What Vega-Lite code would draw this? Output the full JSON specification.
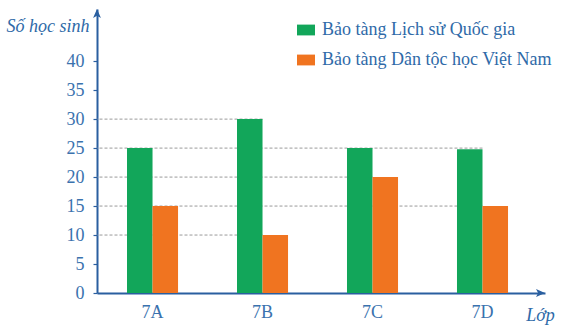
{
  "$schema": "https://vega.github.io/schema/vega-lite/v6.json",
  "width": 448,
  "height": 284,
  "autosize": "none",
  "padding": {"left": 97, "top": 9, "right": 21, "bottom": 33},
  "background": "white",
  "config": {"view": {"stroke": null}, "font": "Liberation Serif"},
  "datasets": {
    "bars": [
      {"cls": "7A", "series": "Bảo tàng Lịch sử Quốc gia", "value": 25},
      {"cls": "7A", "series": "Bảo tàng Dân tộc học Việt Nam", "value": 15},
      {"cls": "7B", "series": "Bảo tàng Lịch sử Quốc gia", "value": 30},
      {"cls": "7B", "series": "Bảo tàng Dân tộc học Việt Nam", "value": 10},
      {"cls": "7C", "series": "Bảo tàng Lịch sử Quốc gia", "value": 25},
      {"cls": "7C", "series": "Bảo tàng Dân tộc học Việt Nam", "value": 20},
      {"cls": "7D", "series": "Bảo tàng Lịch sử Quốc gia", "value": 24.8},
      {"cls": "7D", "series": "Bảo tàng Dân tộc học Việt Nam", "value": 15}
    ],
    "guides": [
      {"classIndex": 2, "value": 30},
      {"classIndex": 4, "value": 25},
      {"classIndex": 3, "value": 20},
      {"classIndex": 4, "value": 15},
      {"classIndex": 2, "value": 10}
    ],
    "yArrow": [{"classIndex": 0.4955, "value": 48.1}],
    "xArrow": [{"classIndex": 4.52, "value": 0}]
  },
  "encoding": {
    "y": {
      "field": "value", "type": "quantitative",
      "scale": {"domain": [0, 49], "nice": false},
      "axis": {
        "title": "Số học sinh", "titleFontStyle": "italic", "titleFontWeight": "normal", "titleFont": "Liberation Serif",
        "titleFontSize": 18, "titleColor": "#2f6aa8", "titleAngle": 0,
        "titleX": -8, "titleY": 22, "titleAlign": "right", "titleBaseline": "alphabetic",
        "values": [0, 5, 10, 15, 20, 25, 30, 35, 40], "labelOverlap": false,
        "labelFontSize": 18, "labelColor": "#3a72ae", "labelPadding": 9,
        "tickSize": 4, "tickColor": "#2a5fa0", "tickWidth": 1.2,
        "domainColor": "#2a5fa0", "domainWidth": 2, "grid": false
      }
    }
  },
  "layer": [
    {
      "data": {"name": "guides"},
      "mark": {"type": "rule", "color": "#9a9a9a", "strokeDash": [3, 2], "strokeWidth": 1},
      "encoding": {
        "x": {"field": "classIndex", "type": "quantitative", "scale": {"domain": [0.4955, 4.5682], "nice": false, "zero": false}, "axis": null},
        "x2": {"datum": 0.4955}
      }
    },
    {
      "data": {"name": "bars"},
      "mark": {"type": "bar"},
      "encoding": {
        "x": {
          "field": "cls", "type": "nominal", "sort": null,
          "scale": {"paddingInner": 0.536, "paddingOuter": 0.3045, "align": 0.448},
          "axis": {
            "title": "Lớp", "titleFontStyle": "italic", "titleFontWeight": "normal", "titleFont": "Liberation Serif",
            "titleFontSize": 18, "titleColor": "#2f6aa8", "titleAngle": 0,
            "titleX": 443, "titleY": 27, "titleAlign": "center", "titleBaseline": "alphabetic",
            "labelAngle": 0, "labelFontSize": 18, "labelColor": "#3a72ae", "labelPadding": 10,
            "ticks": false, "domainColor": "#2a5fa0", "domainWidth": 2, "grid": false
          }
        },
        "xOffset": {"field": "series", "type": "nominal", "sort": ["Bảo tàng Lịch sử Quốc gia", "Bảo tàng Dân tộc học Việt Nam"]},
        "color": {
          "field": "series", "type": "nominal",
          "scale": {"domain": ["Bảo tàng Lịch sử Quốc gia", "Bảo tàng Dân tộc học Việt Nam"], "range": ["#12a65a", "#f07420"]},
          "legend": {
            "title": null, "orient": "none", "legendX": 200, "legendY": 12,
            "symbolType": "M-1,-0.6H1V0.6H-1Z", "symbolSize": 324, "symbolStrokeWidth": 0,
            "labelFont": "Liberation Serif", "labelFontSize": 18, "labelColor": "#2f6aa8", "labelLimit": 400,
            "rowPadding": 12, "labelOffset": 7
          }
        }
      }
    },
    {
      "data": {"name": "yArrow"},
      "mark": {"type": "point", "shape": "M0,-1L0.75,0.7L0,0.3L-0.75,0.7Z", "filled": true, "fill": "#2a5fa0", "stroke": null, "size": 110, "opacity": 1},
      "encoding": {
        "x": {"field": "classIndex", "type": "quantitative", "scale": {"domain": [0.4955, 4.5682], "nice": false, "zero": false}, "axis": null}
      }
    },
    {
      "data": {"name": "xArrow"},
      "mark": {"type": "point", "shape": "M1,0L-0.7,0.75L-0.3,0L-0.7,-0.75Z", "filled": true, "fill": "#2a5fa0", "stroke": null, "size": 110, "opacity": 1},
      "encoding": {
        "x": {"field": "classIndex", "type": "quantitative", "scale": {"domain": [0.4955, 4.5682], "nice": false, "zero": false}, "axis": null}
      }
    }
  ],
  "resolve": {"scale": {"x": "independent"}, "axis": {"x": "independent"}}
}
